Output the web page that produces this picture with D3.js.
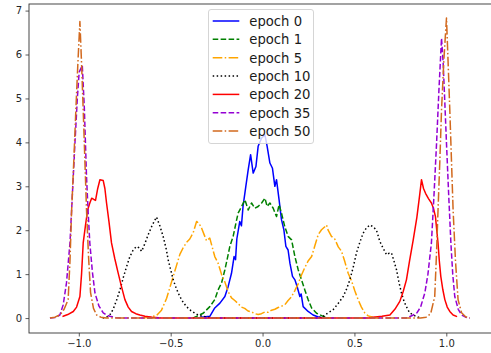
<!DOCTYPE html>
<html>
<head>
<meta charset="utf-8">
<script src="https://cdn.jsdelivr.net/npm/d3@7"></script>
<style>
  body { margin: 0; background: #fff; }
  svg { display: block; font-family: 'DejaVu Sans', sans-serif; }
  .tick text { font-size: 10px; fill: #262626; }
  .tick line { stroke: #333; stroke-width: 0.8; }
  .dataline { fill: none; stroke-width: 1.5; stroke-linejoin: round; }
</style>
</head>
<body>
<div id="container"></div>
<script>
// series: [x, density]
const epoch0 = [[-0.35,0],[-0.332,0.02],[-0.287,0.04],[-0.26,0.23],[-0.232,0.34],[-0.205,0.49],[-0.187,0.72],
  [-0.169,1.02],[-0.155,1.40],[-0.147,1.33],[-0.14,1.80],[-0.124,2.2],[-0.115,2.1],[-0.106,2.55],[-0.091,3.0],
  [-0.078,3.38],[-0.065,3.72],[-0.051,3.30],[-0.036,3.45],[-0.024,3.91],[-0.005,4.10],[0.013,4.17],[0.025,3.91],
  [0.04,3.53],[0.054,3.41],[0.067,3.0],[0.076,3.15],[0.09,2.69],[0.103,2.24],[0.116,2.01],[0.127,1.63],
  [0.139,1.55],[0.149,1.25],[0.163,0.95],[0.176,0.87],[0.188,0.72],[0.203,0.49],[0.21,0.55],[0.221,0.26],
  [0.248,0.15],[0.275,0.07],[0.3,0.03],[0.33,0]];

const epoch1 = [[-0.38,0],[-0.359,0.04],[-0.323,0.11],[-0.287,0.26],[-0.26,0.42],[-0.242,0.64],[-0.223,0.80],
  [-0.205,1.10],[-0.193,1.33],[-0.178,1.63],[-0.16,1.86],[-0.145,2.16],[-0.133,2.39],[-0.114,2.54],[-0.096,2.69],
  [-0.078,2.46],[-0.06,2.62],[-0.042,2.50],[-0.024,2.54],[-0.005,2.62],[0.013,2.73],[0.025,2.54],[0.04,2.62],
  [0.058,2.50],[0.076,2.31],[0.09,2.58],[0.103,2.39],[0.121,2.08],[0.139,1.86],[0.158,1.78],[0.176,1.40],
  [0.194,1.10],[0.212,0.87],[0.23,0.64],[0.248,0.42],[0.267,0.23],[0.294,0.11],[0.33,0.04],[0.36,0]];

const epoch5 = [[-0.66,0],[-0.613,0.02],[-0.577,0.06],[-0.55,0.18],[-0.522,0.45],[-0.504,0.7],[-0.486,0.95],
  [-0.468,1.2],[-0.45,1.45],[-0.432,1.6],[-0.414,1.72],[-0.396,1.8],[-0.377,1.95],[-0.359,2.2],[-0.345,2.15],
  [-0.332,2.05],[-0.318,1.9],[-0.305,1.76],[-0.287,1.82],[-0.273,1.6],[-0.26,1.40],[-0.242,1.25],[-0.223,0.99],
  [-0.205,0.82],[-0.187,0.6],[-0.169,0.46],[-0.151,0.40],[-0.133,0.33],[-0.115,0.25],[-0.097,0.22],[-0.079,0.16],
  [-0.06,0.14],[-0.042,0.1],[-0.024,0.08],[-0.006,0.1],[0.013,0.14],[0.031,0.13],[0.049,0.18],[0.067,0.2],
  [0.085,0.24],[0.103,0.27],[0.121,0.3],[0.139,0.4],[0.157,0.48],[0.175,0.62],[0.194,0.78],[0.212,0.98],
  [0.23,1.15],[0.248,1.3],[0.267,1.40],[0.285,1.65],[0.303,1.9],[0.321,2.01],[0.339,2.08],[0.348,2.12],
  [0.357,2.0],[0.375,1.86],[0.393,1.8],[0.412,1.62],[0.43,1.52],[0.448,1.28],[0.466,1.02],[0.484,0.85],
  [0.502,0.62],[0.52,0.42],[0.538,0.25],[0.556,0.12],[0.575,0.05],[0.6,0.02],[0.64,0]];

const epoch10 = [[-0.87,0],[-0.849,0.02],[-0.831,0.07],[-0.813,0.2],[-0.795,0.4],[-0.776,0.64],[-0.758,0.92],
  [-0.74,1.17],[-0.722,1.40],[-0.704,1.55],[-0.686,1.63],[-0.672,1.6],[-0.658,1.52],[-0.64,1.7],[-0.622,1.9],
  [-0.604,2.08],[-0.59,2.2],[-0.577,2.30],[-0.559,2.1],[-0.541,1.86],[-0.523,1.55],[-0.514,1.33],[-0.5,1.1],
  [-0.486,0.87],[-0.468,0.66],[-0.45,0.49],[-0.432,0.36],[-0.414,0.26],[-0.39,0.17],[-0.368,0.11],[-0.345,0.06],
  [-0.323,0.04],[-0.3,0.02],[-0.27,0],[0.30,0],[0.33,0.04],[0.357,0.12],[0.384,0.19],[0.411,0.33],[0.439,0.49],
  [0.457,0.66],[0.475,0.87],[0.493,1.15],[0.511,1.48],[0.529,1.72],[0.547,1.93],[0.565,2.05],[0.584,2.12],
  [0.602,2.08],[0.62,2.0],[0.638,1.75],[0.656,1.59],[0.675,1.44],[0.69,1.48],[0.702,1.48],[0.715,1.3],
  [0.729,1.10],[0.743,0.8],[0.756,0.57],[0.77,0.38],[0.783,0.26],[0.8,0.12],[0.82,0.07],[0.84,0.03],[0.86,0]];

const epoch20 = [[-1.085,0.04],[-1.06,0.08],[-1.03,0.15],[-1.012,0.25],[-0.994,0.49],[-0.985,1.0],[-0.976,1.71],
  [-0.964,2.1],[-0.952,2.46],[-0.94,2.62],[-0.93,2.73],[-0.918,2.7],[-0.909,2.68],[-0.897,2.95],[-0.885,3.15],
  [-0.867,3.13],[-0.858,2.95],[-0.849,2.62],[-0.836,2.2],[-0.822,1.71],[-0.804,1.35],[-0.786,1.03],[-0.768,0.72],
  [-0.749,0.42],[-0.731,0.25],[-0.713,0.15],[-0.69,0.1],[-0.668,0.07],[-0.64,0.04],[-0.6,0.02],[-0.55,0],
  [0.58,0],[0.602,0.02],[0.65,0.04],[0.693,0.07],[0.72,0.2],[0.747,0.38],[0.765,0.6],[0.783,0.87],[0.8,1.3],
  [0.82,1.78],[0.84,2.3],[0.855,2.8],[0.865,3.15],[0.876,2.95],[0.887,2.84],[0.903,2.72],[0.919,2.62],[0.93,2.5],
  [0.941,2.31],[0.948,2.0],[0.955,1.71],[0.962,1.3],[0.970,0.95],[0.981,0.65],[0.992,0.42],[1.005,0.25],
  [1.019,0.15],[1.037,0.07],[1.055,0.04]];

const epoch35 = [[-1.157,0],[-1.13,0.01],[-1.103,0.07],[-1.085,0.3],[-1.067,0.8],[-1.048,1.71],[-1.035,2.8],
  [-1.021,3.98],[-1.008,5.0],[-0.998,5.6],[-0.981,5.75],[-0.97,4.8],[-0.958,3.22],[-0.949,2.4],[-0.94,1.71],
  [-0.926,1.05],[-0.912,0.57],[-0.89,0.27],[-0.867,0.12],[-0.849,0.07],[-0.831,0.04],[-0.8,0.01],[-0.77,0],
  [0.78,0],[0.8,0.03],[0.82,0.07],[0.84,0.12],[0.86,0.25],[0.883,0.57],[0.9,1.0],[0.919,1.71],[0.933,2.8],
  [0.947,3.98],[0.96,5.2],[0.974,6.37],[0.983,5.8],[0.992,4.9],[1.001,3.98],[1.013,2.8],[1.025,1.71],[1.035,1.0],
  [1.046,0.49],[1.065,0.2],[1.083,0.07],[1.105,0.02],[1.128,0]];

const epoch50 = [[-1.157,0],[-1.13,0.02],[-1.1,0.08],[-1.08,0.2],[-1.058,0.42],[-1.048,1.3],[-1.039,2.46],
  [-1.027,3.6],[-1.016,4.74],[-1.005,5.8],[-0.994,6.75],[-0.985,5.8],[-0.976,4.74],[-0.967,3.6],[-0.958,2.46],
  [-0.947,1.4],[-0.936,0.58],[-0.92,0.22],[-0.903,0.07],[-0.88,0.02],[-0.85,0],[0.86,0],[0.89,0.02],[0.915,0.1],
  [0.937,0.49],[0.946,1.4],[0.955,2.46],[0.965,3.6],[0.974,4.74],[0.987,5.9],[1.001,6.83],[1.01,5.8],[1.019,4.74],
  [1.028,3.6],[1.037,2.46],[1.05,1.3],[1.064,0.42],[1.083,0.12],[1.105,0.03],[1.128,0]];

const labels = ['epoch 0', 'epoch 1', 'epoch 5', 'epoch 10', 'epoch 20', 'epoch 35', 'epoch 50'];
const xTicks = [-1.0, -0.5, 0.0, 0.5, 1.0];
const yTicks = [0, 1, 2, 3, 4, 5, 6, 7];

const series = [
  { name: labels[0], data: epoch0, color: '#0000ff', dash: null },
  { name: labels[1], data: epoch1, color: '#008000', dash: '5.55,2.4' },
  { name: labels[2], data: epoch5, color: '#ffa500', dash: '9.6,2.4,1.5,2.4' },
  { name: labels[3], data: epoch10, color: '#000000', dash: '1.5,2.475' },
  { name: labels[4], data: epoch20, color: '#ff0000', dash: null },
  { name: labels[5], data: epoch35, color: '#9400d3', dash: '5.55,2.4' },
  { name: labels[6], data: epoch50, color: '#d2691e', dash: '9.6,2.4,1.5,2.4' }
];

const width = 491;
const height = 353;
const marginLeft = 29;
const plotRight = 495;   // right spine falls just outside the picture
const marginTop = 4;
const plotBottom = 333;

const svg = d3.select('#container')
              .append('svg')
              .attr('width', width)
              .attr('height', height);

const x = d3.scaleLinear().domain([-1.271, 1.265]).range([marginLeft, plotRight]);
const y = d3.scaleLinear().domain([-0.34, 7.15]).range([plotBottom, marginTop]);

svg.append('clipPath').attr('id', 'plot')
   .append('rect')
   .attr('x', marginLeft).attr('y', marginTop)
   .attr('width', plotRight - marginLeft).attr('height', plotBottom - marginTop);

// lines
const valueline = d3.line()
                    .x((d) => x(d[0]))
                    .y((d) => y(d[1]));
svg.append('g')
   .attr('clip-path', 'url(#plot)')
   .selectAll('.dataline')
   .data(series)
   .enter()
   .append('path')
   .attr('class', 'dataline')
   .attr('d', (s) => valueline(s.data))
   .style('stroke', (s) => s.color)
   .style('stroke-dasharray', (s) => s.dash)
   .style('stroke-linecap', (s) => s.dash ? 'butt' : 'square');

// axes
const xAxis = d3.axisBottom(x)
                .tickValues(xTicks)
                .tickSize(3.5)
                .tickSizeOuter(0)
                .tickPadding(3.5)
                .tickFormat(d3.format('.1f'));
svg.append('g')
   .attr('transform', `translate(0, ${plotBottom})`)
   .call(xAxis)
   .call((g) => g.select('.domain').remove());

const yAxis = d3.axisLeft(y)
                .tickValues(yTicks)
                .tickSize(3.5)
                .tickSizeOuter(0)
                .tickPadding(3.5)
                .tickFormat(d3.format('d'));
svg.append('g')
   .attr('transform', `translate(${marginLeft}, 0)`)
   .call(yAxis)
   .call((g) => g.select('.domain').remove());

svg.selectAll('.tick text').attr('font-family', 'DejaVu Sans').attr('font-size', 10);

svg.append('rect')
   .attr('x', marginLeft).attr('y', marginTop)
   .attr('width', plotRight - marginLeft).attr('height', plotBottom - marginTop)
   .style('fill', 'none')
   .style('stroke', '#333')
   .style('stroke-width', 0.9);

// legend
const legend = svg.append('g').attr('transform', 'translate(208.5, 9.5)');
legend.append('rect')
      .attr('width', 105)
      .attr('height', 134)
      .attr('rx', 2.5)
      .style('fill', 'rgba(255,255,255,0.8)')
      .style('stroke', '#d0d0d0')
      .style('stroke-width', 0.9);

const rows = legend.selectAll('.row')
                   .data(series)
                   .enter()
                   .append('g')
                   .attr('class', 'row')
                   .attr('transform', (d, i) => `translate(0, ${11.5 + i * 18.35})`);
rows.append('path')
    .attr('d', 'M4.2,0H30.8')
    .style('fill', 'none')
    .style('stroke-width', 1.5)
    .style('stroke', (s) => s.color)
    .style('stroke-dasharray', (s) => s.dash);
rows.append('text')
    .attr('x', 40.8)
    .attr('y', 4.8)
    .style('font-size', '13.2px')
    .style('fill', '#1a1a1a')
    .text((s) => s.name);
</script>
</body>
</html>
